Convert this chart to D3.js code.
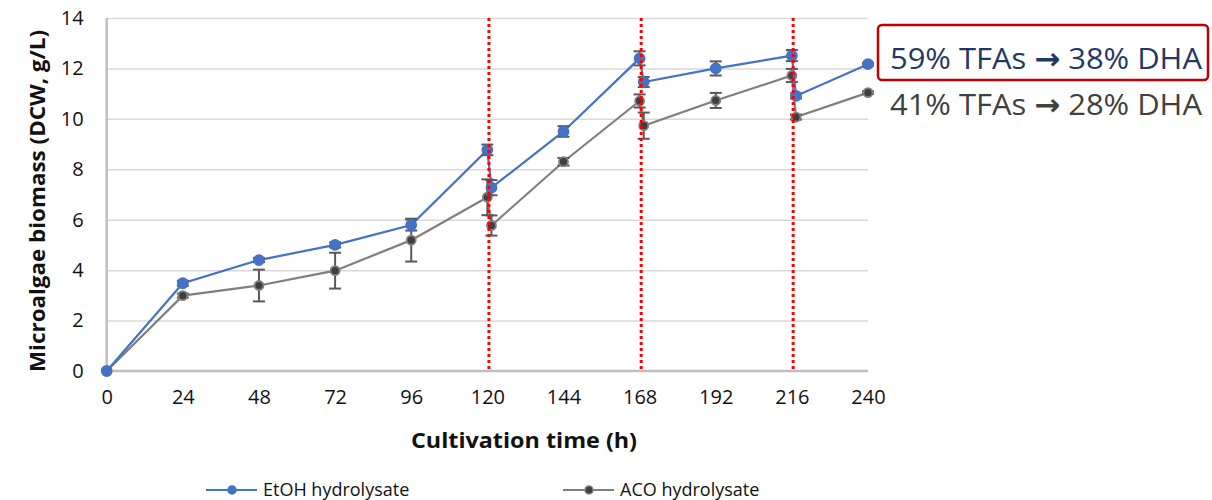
<!DOCTYPE html>
<html>
<meta charset="utf-8">
<style>
body { margin: 0; background: #fff; }
text { font-family: "Open Sans", "DejaVu Sans", sans-serif; }
.tick line { stroke: #d9d9d9; stroke-width: 1.5px; }
.domain { display: none; }
</style>
<body>
<svg id="chart" width="1212" height="500"></svg>
<script src="https://cdn.jsdelivr.net/npm/d3@7/dist/d3.min.js"></script>
<script>
// sampling times (h) - second point after each feeding sits just right of the first
var times = [0, 24, 48, 72, 96, 120, 121.3, 144, 168, 169.3, 192, 216, 217.3, 240];
var etoh = [0, 3.48, 4.4, 5.0, 5.79, 8.77, 7.27, 9.5, 12.4, 11.46, 12.0, 12.51, 10.91, 12.17];
var etohErr = [0, 0.1, 0.08, 0.1, 0.22, 0.21, 0.3, 0.21, 0.28, 0.2, 0.28, 0.22, 0.1, 0.05];
var aco = [0, 2.99, 3.39, 3.98, 5.19, 6.89, 5.77, 8.3, 10.71, 9.73, 10.73, 11.72, 10.07, 11.04];
var acoErr = [0, 0.08, 0.63, 0.71, 0.85, 0.71, 0.4, 0.15, 0.26, 0.52, 0.3, 0.26, 0.1, 0.05];
var xTicks = [0, 24, 48, 72, 96, 120, 144, 168, 192, 216, 240];
var yTicks = [0, 2, 4, 6, 8, 10, 12, 14];
var feedLines = [120.5, 168.5, 216.4];
var seriesNames = ["EtOH hydrolysate", "ACO hydrolysate"];
var notes = [["59% TFAs ", "38% DHA"], ["41% TFAs ", "28% DHA"]];

var svg = d3.select("#chart");
var pL = 106.7, pR = 868, pT = 18, pB = 371;

var x = d3.scaleLinear().domain([0, 240]).range([pL, pR]);
var y = d3.scaleLinear().domain([0, 14]).range([pB, pT]);

svg.append("rect").attr("width", 1212).attr("height", 500).attr("fill", "#fff");

// gridlines
svg.append("g")
  .attr("transform", "translate(" + pL + ",0)")
  .call(d3.axisLeft(y).tickValues(yTicks.slice(1)).tickSize(-(pR - pL)).tickFormat(""));

// axis lines
svg.append("line").attr("x1", pL).attr("x2", pL).attr("y1", pT).attr("y2", pB)
  .attr("stroke", "#bfbfbf").attr("stroke-width", 2.5);
svg.append("line").attr("x1", pL).attr("x2", pR).attr("y1", pB).attr("y2", pB)
  .attr("stroke", "#bfbfbf").attr("stroke-width", 2.5);

// tick labels
var yAx = svg.append("g").attr("transform", "translate(" + pL + ",0)")
  .call(d3.axisLeft(y).tickValues(yTicks).tickSize(0).tickPadding(23));
yAx.selectAll("text").attr("font-size", 20).attr("fill", "#111")
  .style("font-family", "'Open Sans', sans-serif");

var xAx = svg.append("g").attr("transform", "translate(0," + pB + ")")
  .call(d3.axisBottom(x).tickValues(xTicks).tickSize(0).tickPadding(19));
xAx.selectAll("text").attr("font-size", 20).attr("fill", "#111")
  .style("font-family", "'Open Sans', sans-serif");

// axis titles
svg.append("text").attr("x", 524).attr("y", 448).attr("text-anchor", "middle")
  .attr("font-size", 22).attr("font-weight", "bold").attr("fill", "#111")
  .attr("textLength", 226).attr("lengthAdjust", "spacingAndGlyphs")
  .text("Cultivation time (h)");
svg.append("text").attr("transform", "translate(45,201) rotate(-90)")
  .attr("text-anchor", "middle").attr("font-size", 22).attr("font-weight", "bold").attr("fill", "#111")
  .attr("textLength", 342).attr("lengthAdjust", "spacingAndGlyphs")
  .text("Microalgae biomass (DCW, g/L)");

var series = [
  { vals: etoh, err: etohErr, line: "#4472c4", fill: "#4472c4", stroke: "#4472c4", r: 5 },
  { vals: aco, err: acoErr, line: "#7f7f7f", fill: "#3f3f3f", stroke: "#808080", r: 4.5 }
];

var line = d3.line().x(function(d) { return x(d[0]); }).y(function(d) { return y(d[1]); });

// draw grey first so blue sits on top
series.slice().reverse().forEach(function(s) {
  var pts = times.map(function(t, i) { return [t, s.vals[i], s.err[i]]; });
  svg.append("path").datum(pts).attr("d", line)
    .attr("fill", "none").attr("stroke", s.line).attr("stroke-width", 2.2);

  var eb = svg.append("g").attr("stroke", "#595959").attr("stroke-width", 2);
  pts.forEach(function(p) {
    if (p[2] <= 0) return;
    var cx = x(p[0]), y1 = y(p[1] + p[2]), y2 = y(p[1] - p[2]);
    eb.append("line").attr("x1", cx).attr("x2", cx).attr("y1", y1).attr("y2", y2);
    eb.append("line").attr("x1", cx - 6).attr("x2", cx + 6).attr("y1", y1).attr("y2", y1);
    eb.append("line").attr("x1", cx - 6).attr("x2", cx + 6).attr("y1", y2).attr("y2", y2);
  });

  svg.append("g").selectAll("circle").data(pts).enter().append("circle")
    .attr("cx", function(d) { return x(d[0]); })
    .attr("cy", function(d) { return y(d[1]); })
    .attr("r", s.r).attr("fill", s.fill).attr("stroke", s.stroke).attr("stroke-width", 1.8);
});

// feeding markers (red dotted)
svg.selectAll(".feed").data(feedLines).enter().append("line")
  .attr("class", "feed")
  .attr("x1", function(d) { return x(d); }).attr("x2", function(d) { return x(d); })
  .attr("y1", pT).attr("y2", pB)
  .attr("stroke", "#ff0000").attr("stroke-width", 3).attr("stroke-dasharray", "3,3");

// legend
var legX = [206, 563];
series.forEach(function(s, i) {
  var g = svg.append("g").attr("transform", "translate(" + legX[i] + ",490)");
  g.append("line").attr("x1", 0).attr("x2", 51).attr("stroke", s.line).attr("stroke-width", 2.2);
  g.append("circle").attr("cx", 26).attr("r", 4).attr("fill", s.fill).attr("stroke", s.stroke).attr("stroke-width", 1.5);
  g.append("text").attr("x", 57).attr("y", 6).attr("font-size", 18).attr("fill", "#111")
    .text(seriesNames[i]);
});

// annotation box
svg.append("rect").attr("x", 878).attr("y", 25).attr("width", 330).attr("height", 55).attr("rx", 4)
  .attr("fill", "none").attr("stroke", "#c00000").attr("stroke-width", 2.5);
var noteCol = ["#1f3864", "#404040"];
var noteY = [69, 115];
notes.forEach(function(n, i) {
  var t = svg.append("text").attr("x", 890).attr("y", noteY[i]).attr("font-size", 30).attr("fill", noteCol[i])
    .attr("textLength", 312).attr("lengthAdjust", "spacingAndGlyphs");
  t.append("tspan").text(n[0]);
  t.append("tspan").attr("font-family", "'DejaVu Sans', sans-serif").attr("font-weight", "bold").text("\u2192");
  t.append("tspan").text(" " + n[1]);
});
</script>
</body>
</html>
